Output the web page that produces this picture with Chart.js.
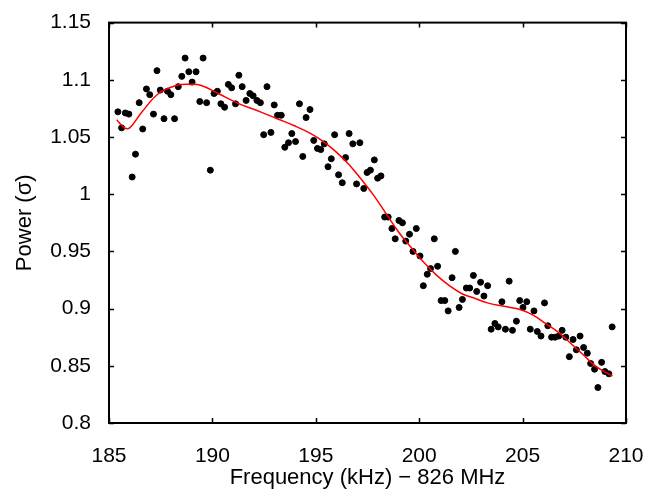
<!DOCTYPE html>
<html>
<head>
<meta charset="utf-8">
<script src="https://cdn.jsdelivr.net/npm/chart.js@4/dist/chart.umd.min.js"></script>
<style>
  html, body { margin: 0; padding: 0; background: #fff; }
  #wrap { width: 659px; height: 491px; }
</style>
</head>
<body>
<div id="wrap"><canvas id="c"></canvas></div>
<script>
const freq = [185.43,185.61,185.79,185.96,186.12,186.28,186.46,186.63,186.81,186.97,
187.15,187.32,187.48,187.66,187.83,187.99,188.17,188.35,188.52,188.68,
188.86,189.02,189.21,189.39,189.55,189.72,189.90,190.08,190.24,190.41,
190.59,190.77,190.93,191.12,191.28,191.44,191.63,191.81,191.97,192.15,
192.32,192.48,192.64,192.83,192.99,193.15,193.33,193.50,193.68,193.84,
194.02,194.21,194.37,194.53,194.72,194.90,195.08,195.24,195.41,195.59,
195.75,195.91,196.10,196.28,196.44,196.61,196.79,196.97,197.13,197.32,
197.48,197.64,197.83,197.99,198.15,198.33,198.50,198.68,198.84,199.02,
199.19,199.35,199.53,199.70,199.86,200.04,200.20,200.39,200.55,200.73,
200.89,201.06,201.24,201.40,201.59,201.75,201.93,202.09,202.28,202.44,
202.62,202.78,202.97,203.13,203.31,203.48,203.66,203.82,204.00,204.17,
204.35,204.51,204.70,204.86,205.02,205.20,205.37,205.55,205.71,205.89,
206.06,206.22,206.40,206.57,206.75,206.91,207.09,207.26,207.44,207.60,
207.78,207.95,208.13,208.29,208.48,208.64,208.82,208.98,209.17,209.33];
const power = [1.072,1.058,1.071,1.070,1.015,1.035,1.080,1.057,1.092,1.087,
1.070,1.108,1.091,1.066,1.090,1.087,1.066,1.094,1.103,1.119,
1.107,1.098,1.107,1.081,1.119,1.080,1.021,1.088,1.090,1.079,
1.076,1.096,1.093,1.079,1.104,1.094,1.082,1.088,1.086,1.082,
1.080,1.052,1.094,1.054,1.078,1.069,1.069,1.041,1.045,1.053,
1.046,1.079,1.033,1.067,1.074,1.047,1.040,1.039,1.044,1.024,
1.031,1.052,1.017,1.010,1.032,1.053,1.044,1.009,1.045,1.005,
1.019,1.021,1.030,1.014,1.016,0.980,0.980,0.970,0.961,0.977,
0.975,0.959,0.965,0.950,0.970,0.946,0.920,0.930,0.935,0.961,
0.937,0.907,0.907,0.898,0.927,0.950,0.901,0.908,0.918,0.918,
0.929,0.915,0.923,0.911,0.920,0.882,0.887,0.884,0.906,0.882,
0.924,0.881,0.889,0.907,0.901,0.906,0.882,0.898,0.880,0.876,
0.905,0.885,0.875,0.875,0.876,0.881,0.875,0.858,0.873,0.864,
0.876,0.866,0.861,0.852,0.847,0.831,0.853,0.845,0.843,0.884];
const fitFreq = [185.37,185.75,186.0,186.6,187.4,188.25,188.96,189.47,190.28,191.3,
192.32,193.13,193.94,194.76,195.37,195.98,196.6,197.2,197.8,198.4,
199.0,199.63,200.24,200.85,201.46,202.07,202.68,203.3,204.1,204.92,
205.53,206.1,206.75,207.36,207.97,208.58,209.35];
const fitPower = [1.065,1.058,1.058,1.072,1.088,1.095,1.096,1.095,1.088,1.079,
1.072,1.066,1.060,1.053,1.046,1.037,1.026,1.013,0.999,0.983,
0.967,0.953,0.940,0.929,0.920,0.913,0.909,0.905,0.902,0.899,
0.894,0.887,0.879,0.869,0.859,0.849,0.841];
const xTickValues = [185,190,195,200,205,210];
const xTickLabels = ['185','190','195','200','205','210'];
const yTickValues = [0.8,0.85,0.9,0.95,1,1.05,1.1,1.15];
const yTickLabels = ['0.8','0.85','0.9','0.95','1','1.05','1.1','1.15'];
const xTitle = 'Frequency (kHz) \u2212 826 MHz';
const yTitle = 'Power (\u03c3)';

const FONT = 'Liberation Sans, Arial, Helvetica, sans-serif';

const framePlugin = {
  id: 'frame',
  afterDraw(chart) {
    const {ctx, chartArea: a, scales} = chart;
    ctx.save();
    ctx.strokeStyle = '#000';
    ctx.lineWidth = 1.5;
    const L = 5;
    ctx.beginPath();
    xTickValues.forEach(v => {
      const px = Math.round(scales.x.getPixelForValue(v)) + 0.5;
      ctx.moveTo(px, a.bottom); ctx.lineTo(px, a.bottom - L);
      ctx.moveTo(px, a.top); ctx.lineTo(px, a.top + L);
    });
    yTickValues.forEach(v => {
      const py = Math.round(scales.y.getPixelForValue(v)) + 0.5;
      ctx.moveTo(a.left, py); ctx.lineTo(a.left + L, py);
      ctx.moveTo(a.right, py); ctx.lineTo(a.right - L, py);
    });
    ctx.stroke();
    ctx.lineWidth = 2;
    ctx.strokeRect(a.left, a.top, a.right - a.left, a.bottom - a.top);
    ctx.restore();
  }
};

new Chart(document.getElementById('c'), {
  type: 'scatter',
  data: {
    datasets: [
      {
        label: 'data',
        data: freq.map((f, i) => ({x: f, y: power[i]})),
        backgroundColor: '#000',
        borderColor: '#000',
        pointRadius: 3,
        pointHoverRadius: 3,
        order: 2
      },
      {
        label: 'fit',
        type: 'line',
        data: fitFreq.map((f, i) => ({x: f, y: fitPower[i]})),
        borderColor: '#ff0000',
        borderWidth: 1.5,
        pointRadius: 0,
        fill: false,
        tension: 0.4,
        order: 1
      }
    ]
  },
  options: {
    responsive: true,
    maintainAspectRatio: false,
    animation: false,
    events: [],
    layout: { padding: { left: 0, right: 33, top: 16, bottom: 0 } },
    plugins: { legend: { display: false }, tooltip: { enabled: false } },
    scales: {
      x: {
        type: 'linear',
        min: 185, max: 210,
        grid: { display: false },
        border: { display: false },
        afterBuildTicks(s) { s.ticks = xTickValues.map(v => ({value: v})); },
        afterFit(s) { s.height = 68; },
        ticks: {
          color: '#000',
          padding: 13,
          maxRotation: 0,
          font: { family: FONT, size: 21 },
          callback: (v) => xTickLabels[xTickValues.indexOf(v)]
        },
        title: {
          display: true,
          text: xTitle,
          color: '#000',
          font: { family: FONT, size: 22 },
          padding: { top: 0, bottom: 0 }
        }
      },
      y: {
        type: 'linear',
        min: 0.8, max: 1.15,
        grid: { display: false },
        border: { display: false },
        afterBuildTicks(s) { s.ticks = yTickValues.map(v => ({value: v})); },
        afterFit(s) { s.width = 109; },
        ticks: {
          color: '#000',
          padding: 10,
          font: { family: FONT, size: 21 },
          callback: (v) => yTickLabels[yTickValues.indexOf(v)]
        },
        title: {
          display: true,
          text: yTitle,
          color: '#000',
          font: { family: FONT, size: 22 },
          padding: { top: 12, bottom: 0 }
        }
      }
    }
  },
  plugins: [framePlugin]
});
</script>
</body>
</html>
